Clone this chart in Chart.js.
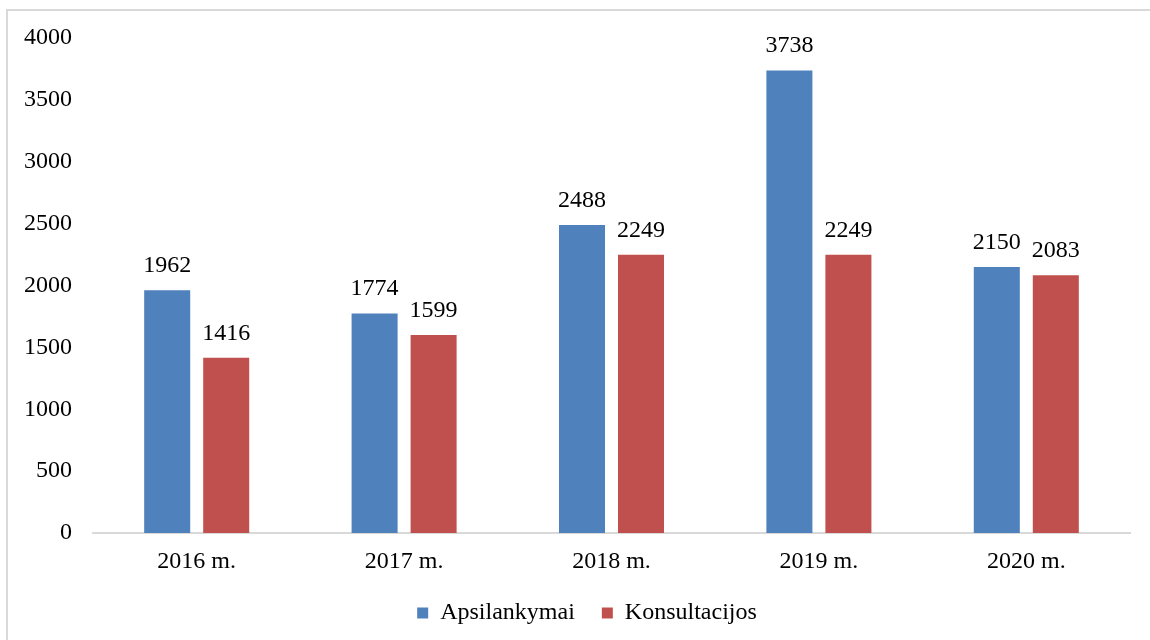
<!DOCTYPE html>
<html>
<head>
<meta charset="utf-8">
<script src="https://cdn.jsdelivr.net/npm/chart.js@4/dist/chart.umd.min.js"></script>
<style>
  html, body { margin: 0; padding: 0; background: #fff; }
  #wrap { position: relative; width: 1150px; height: 640px; overflow: hidden; }
  #frame { position: absolute; left: 6px; top: 9px; width: 1200px; height: 700px; border-left: 2px solid #d9d9d9; border-top: 2px solid #d9d9d9; }
  #c { position: absolute; left: 0; top: 0; }
</style>
</head>
<body>
<div id="wrap">
  <div id="frame"></div>
  <canvas id="c" width="1150" height="640"></canvas>
</div>
<script>
const categories = ['2016 m.', '2017 m.', '2018 m.', '2019 m.', '2020 m.'];
const seriesNames = ['Apsilankymai', 'Konsultacijos'];
const apsilankymai = [1962, 1774, 2488, 3738, 2150];
const konsultacijos = [1416, 1599, 2249, 2249, 2083];
const yTicks = [0, 500, 1000, 1500, 2000, 2500, 3000, 3500, 4000];
const colors = ['#4F81BD', '#C0504D'];

const FONT = 'Liberation Serif, Times New Roman, serif';
const FS = 24;

const valueLabels = {
  id: 'valueLabels',
  afterLayout(chart) {
    const L = chart.legend;
    if (L) { L.left += 22; L.right += 22; }
  },
  afterDatasetsDraw(chart) {
    const ctx = chart.ctx;
    ctx.save();
    ctx.font = FS + 'px ' + FONT;
    ctx.fillStyle = '#000';
    ctx.textAlign = 'center';
    ctx.textBaseline = 'alphabetic';
    chart.data.datasets.forEach((ds, i) => {
      chart.getDatasetMeta(i).data.forEach((bar, j) => {
        ctx.fillText(String(ds.data[j]), bar.x, bar.y - 18);
      });
    });
    ctx.restore();
  }
};

new Chart(document.getElementById('c'), {
  type: 'bar',
  data: {
    labels: categories,
    datasets: [
      { label: seriesNames[0], data: apsilankymai, backgroundColor: colors[0], borderWidth: 0 },
      { label: seriesNames[1], data: konsultacijos, backgroundColor: colors[1], borderWidth: 0 }
    ]
  },
  options: {
    responsive: false,
    animation: false,
    devicePixelRatio: 1,
    layout: { padding: { top: 38, right: 20, left: 0, bottom: 5 } },
    datasets: { bar: { categoryPercentage: 0.569, barPercentage: 0.78 } },
    plugins: {
      legend: {
        position: 'bottom',
        labels: {
          font: { family: FONT, size: FS },
          color: '#000',
          boxWidth: 11,
          boxHeight: 11,
          padding: 27
        }
      },
      tooltip: { enabled: false }
    },
    scales: {
      x: {
        grid: { display: false, drawTicks: false },
        border: { display: true, color: '#d9d9d9', width: 2 },
        ticks: { font: { family: FONT, size: FS }, color: '#000', padding: 14 },
        afterFit(s) { s.height = 41; }
      },
      y: {
        min: 0, max: 4000,
        grid: { display: false, drawTicks: false },
        border: { display: false },
        afterBuildTicks(s) { s.ticks = yTicks.map(v => ({ value: v })); },
        ticks: { font: { family: FONT, size: FS }, color: '#000', padding: 21, callback: v => String(v) },
        afterFit(s) { s.width = 93; s.paddingTop = 0; s.paddingBottom = 0; }
      }
    }
  },
  plugins: [valueLabels]
});
</script>
</body>
</html>
